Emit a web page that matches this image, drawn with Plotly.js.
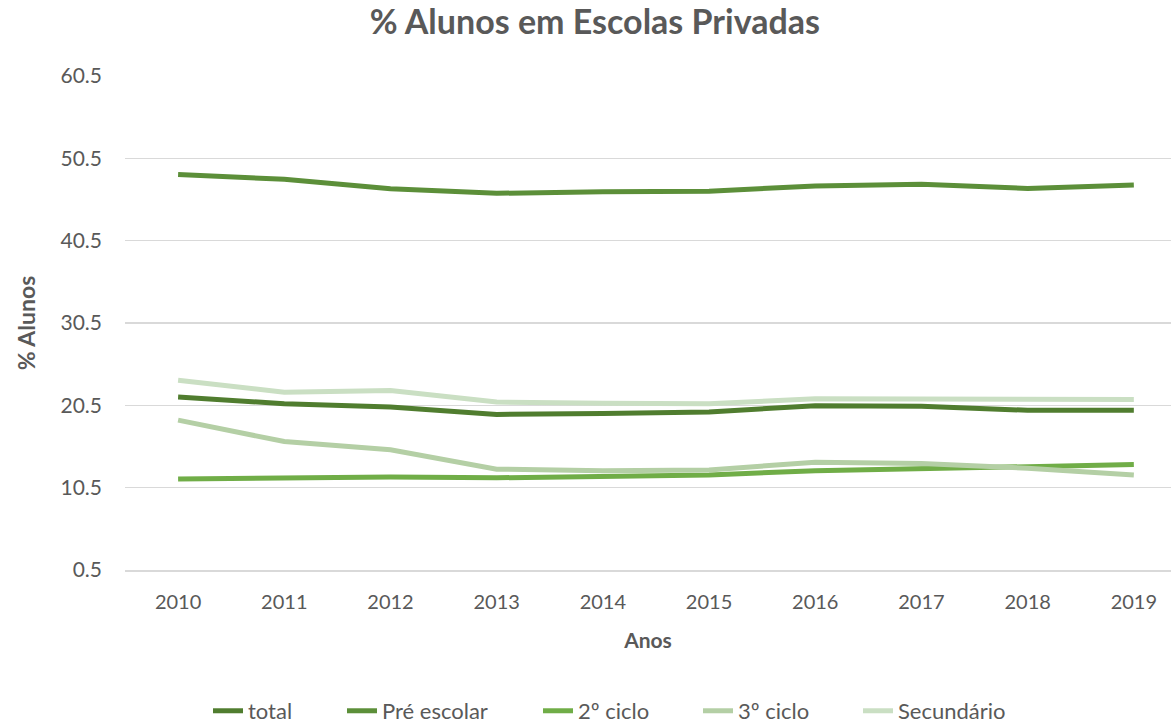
<!DOCTYPE html>
<html>
<head>
<meta charset="utf-8">
<script src="https://cdn.plot.ly/plotly-3.0.1.min.js"></script>
<style>html,body{margin:0;padding:0;background:#fff;}#chart{width:1171px;height:724px;}</style>
</head>
<body>
<div id="chart"></div>
<script>
const years = ['2010','2011','2012','2013','2014','2015','2016','2017','2018','2019'];
const total = [21.5, 20.7, 20.3, 19.4, 19.5, 19.7, 20.45, 20.4, 19.9, 19.9];
const preEscolar = [48.55, 47.95, 46.8, 46.25, 46.45, 46.5, 47.15, 47.35, 46.85, 47.25];
const ciclo2 = [11.55, 11.7, 11.8, 11.7, 11.9, 12.05, 12.55, 12.8, 13.05, 13.3];
const ciclo3 = [18.7, 16.1, 15.1, 12.75, 12.55, 12.65, 13.6, 13.45, 12.85, 12.05];
const secundario = [23.55, 22.1, 22.3, 20.9, 20.75, 20.7, 21.3, 21.3, 21.25, 21.2];
const seriesNames = ['total', 'Pré escolar', '2º ciclo', '3º ciclo', 'Secundário'];
const seriesValues = [total, preEscolar, ciclo2, ciclo3, secundario];
const seriesColors = ['#507D2F', '#5C8F39', '#70AD47', '#B4CFA5', '#CADFC3'];
const yTickVals = [0.5, 10.5, 20.5, 30.5, 40.5, 50.5, 60.5];
const legendLeft = [208, 342, 538, 698, 858];

const font = "Lato, 'Open Sans', sans-serif";
const legendIds = ['legend', 'legend2', 'legend3', 'legend4', 'legend5'];
const traces = seriesNames.map((n, i) => ({
  x: years, y: seriesValues[i], name: n, type: 'scatter', mode: 'lines',
  line: {color: seriesColors[i], width: 5}, hoverinfo: 'x+y+name', legend: legendIds[i]
}));

const layout = {
  width: 1171, height: 724,
  paper_bgcolor: '#fff', plot_bgcolor: '#fff',
  margin: {l: 125, r: 0, t: 76, b: 154},
  font: {family: font, color: '#595959', size: 20},
  title: {text: '<b>% Alunos em Escolas Privadas</b>', x: 0.508, xanchor: 'center', y: 0.97, yanchor: 'middle',
          font: {family: font, size: 34, color: '#595959'}},
  xaxis: {type: 'category', range: [-0.5, 9.35], showgrid: false, zeroline: false,
          showline: true, linecolor: '#D9D9D9', linewidth: 1.5,
          ticks: '', tickfont: {size: 20, color: '#595959'}, ticklabelstandoff: 13,
          title: {text: '<b>Anos</b>', font: {size: 21, color: '#595959'}, standoff: 22}},
  yaxis: {range: [0.5, 60.5], tickvals: yTickVals, ticktext: yTickVals.map(v => v.toFixed(1)),
          showgrid: true, gridcolor: '#D9D9D9', gridwidth: 1.5, zeroline: false, showline: false,
          ticks: '', tickfont: {size: 21, color: '#595959'}, ticklabelstandoff: 22,
          title: {text: '<b>% Alunos</b>', font: {size: 23, color: '#595959'}, standoff: 18}},
  showlegend: true,
};
legendIds.forEach((id, i) => {
  layout[id] = {orientation: 'h', xref: 'container', x: legendLeft[i] / 1171, xanchor: 'left',
                yref: 'container', y: 0.018, yanchor: 'middle', bgcolor: 'rgba(0,0,0,0)',
                font: {size: 22, color: '#595959'}};
});
Plotly.newPlot('chart', traces, layout, {displayModeBar: false, staticPlot: true});
</script>
</body>
</html>
